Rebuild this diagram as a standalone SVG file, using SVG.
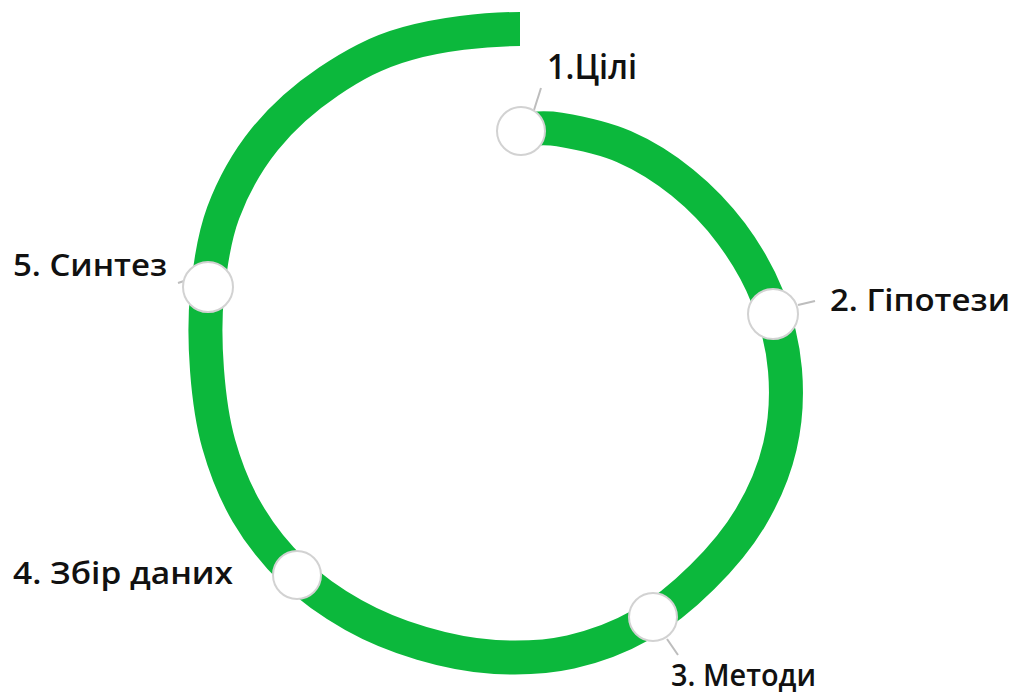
<svg xmlns="http://www.w3.org/2000/svg" width="1021" height="693" viewBox="0 0 1021 693">
<style>
.band{fill:none;stroke:#0cb83c;stroke-width:34;stroke-linecap:butt;stroke-linejoin:round}
.lead{fill:none;stroke:#bdbdbd;stroke-width:2}
.dot{fill:#ffffff;stroke:#d2d2d2;stroke-width:2}
.lbl{font-family:"Open Sans","Noto Sans","Liberation Sans",sans-serif;font-weight:600;fill:#111111;font-size:31px}
</style>
<rect width="1021" height="693" fill="#ffffff"/>
<g id="connectors">
<path class="band" d="M520,29 C483,29 439.4,34.7 407.5,43.5 C375.6,52.3 352.3,65.6 328.5,81.6 C304.7,97.6 282.1,117.6 264.5,139.5 C246.9,161.4 232.7,187.4 223.1,213 C213.6,238.6 209.9,266.7 207.2,292.9 C204.5,319.1 205.1,344.8 207,370 C208.9,395.2 212,420.2 218.7,444 C225.4,467.8 234.8,491.8 247.3,513 C259.8,534.3 275.8,554.5 293.5,571.5 C311.2,588.5 332.1,603.1 353.5,615.1 C374.9,627.1 398.2,636.4 421.8,643.4 C445.4,650.4 470.2,655.6 495,657 C519.8,658.4 546.1,657.4 570.6,652 C595.1,646.6 620.1,637.1 642,624.6 C663.9,612.1 684.1,595.1 702.2,577.2 C720.3,559.4 737.6,539.3 750.5,517.5 C763.5,495.7 774.2,470.9 779.9,446.3 C785.7,421.7 787.1,394.9 785,370 C782.9,345.1 776.3,319.8 767.4,297 C758.5,274.3 745.6,252.6 731.4,233.5 C717.2,214.4 700.3,197.1 682.4,182.6 C664.5,168.1 644.5,155.5 624,146.6 C603.5,137.8 576.7,132.4 559.4,129.5 C542.1,126.6 533.3,129.4 520.3,129.3"/>
<line class="lead" x1="534" y1="110" x2="541" y2="88"/>
<line class="lead" x1="798" y1="305" x2="815" y2="301"/>
<line class="lead" x1="667" y1="639" x2="678" y2="655"/>
<line class="lead" x1="184" y1="281" x2="178" y2="283"/>
</g>
<g id="node1"><circle class="dot" cx="521" cy="131" r="24"/><text class="lbl" x="547" y="79" style="font-size:34px" textLength="90" lengthAdjust="spacingAndGlyphs">1.Цілі</text></g>
<g id="node2"><circle class="dot" cx="773" cy="314" r="25"/><text class="lbl" x="830" y="311" textLength="180" lengthAdjust="spacingAndGlyphs">2. Гіпотези</text></g>
<g id="node3"><circle class="dot" cx="653" cy="617" r="24"/><text class="lbl" x="671" y="686" textLength="145" lengthAdjust="spacingAndGlyphs">3. Методи</text></g>
<g id="node4"><circle class="dot" cx="297" cy="575" r="24"/><text class="lbl" x="13" y="584" textLength="220" lengthAdjust="spacingAndGlyphs">4. Збір даних</text></g>
<g id="node5"><circle class="dot" cx="208" cy="287" r="25"/><text class="lbl" x="13" y="276" textLength="154" lengthAdjust="spacingAndGlyphs">5. Синтез</text></g>
</svg>
